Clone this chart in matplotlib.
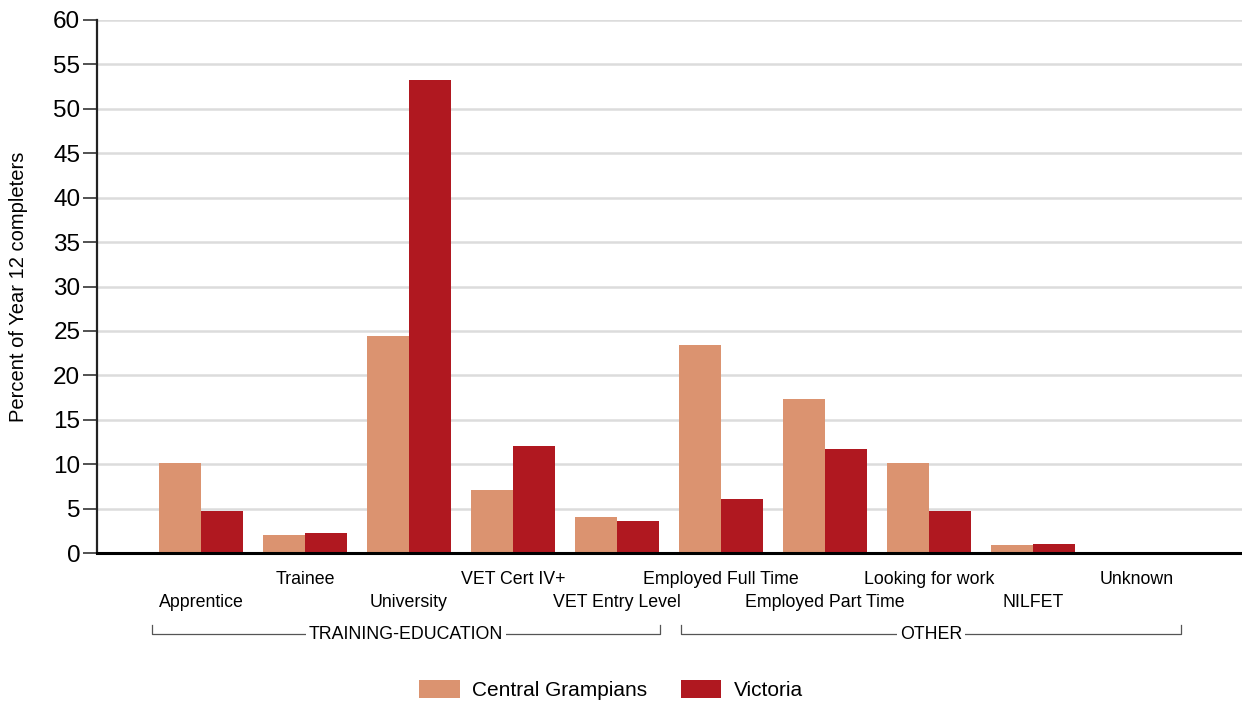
import matplotlib
matplotlib.use("Agg")
from matplotlib import pyplot as plt
import matplotlib.transforms as mtransforms
import numpy as np

categories = ['Apprentice', 'Trainee', 'University', 'VET Cert IV+', 'VET Entry Level',
              'Employed Full Time', 'Employed Part Time', 'Looking for work', 'NILFET', 'Unknown']
central_grampians = [10.1, 2.0, 24.4, 7.1, 4.0, 23.4, 17.3, 10.1, 0.95, 0.0]
victoria = [4.7, 2.25, 53.2, 12.1, 3.6, 6.1, 11.7, 4.7, 1.05, 0.0]
groups = [('TRAINING-EDUCATION', -0.47, 4.41), ('OTHER', 4.615, 9.42)]
yticks = list(range(0, 61, 5))

plt.rcParams['font.family'] = ['Liberation Sans', 'DejaVu Sans']

fig = plt.figure(figsize=(12.42, 7.04), dpi=100)
ax = fig.add_axes([97 / 1242, (704 - 553) / 704, 1 - 97 / 1242, 533 / 704])

x = np.arange(len(categories))
w = 0.4
ax.bar(x - w / 2, central_grampians, w, color='#DB9370', label='Central Grampians', zorder=3)
ax.bar(x + w / 2, victoria, w, color='#B01820', label='Victoria', zorder=3)

ax.set_xlim(-1, 10.01)
ax.set_ylim(0, 60)
ax.set_yticks(yticks)
ax.tick_params(axis='y', labelsize=17.5, length=10, width=1.2, color='#333333', pad=2)
ax.set_xticks([])
ax.yaxis.grid(True, color='#dcdcdc', linewidth=1.8, zorder=0)
ax.set_axisbelow(True)
for s in ['top', 'right']:
    ax.spines[s].set_visible(False)
ax.spines['left'].set_linewidth(1.6)
ax.spines['left'].set_color('#222222')
ax.spines['bottom'].set_linewidth(2.2)
ax.spines['bottom'].set_color('black')
ax.spines['bottom'].set_zorder(4)
ax.set_ylabel('Percent of Year 12 completers', fontsize=14.5)
ax.yaxis.set_label_coords(-0.060, 0.5)

trans = mtransforms.blended_transform_factory(ax.transData, ax.transAxes)
# category labels, staggered in two rows
for i, c in enumerate(categories):
    yy = -0.0938 if i % 2 == 0 else -0.0488
    ax.text(i, yy, c, transform=trans, ha='center', va='center', fontsize=12.8)

# group brackets
for name, x0, x1 in groups:
    yb, yt = -0.152, -0.135
    ax.plot([x0, x0, x1, x1], [yt, yb, yb, yt], transform=trans, color='#555555',
            linewidth=0.9, clip_on=False)
    ax.text((x0 + x1) / 2, yb, name, transform=trans, ha='center', va='center', fontsize=12.8,
            bbox=dict(facecolor='white', edgecolor='none', pad=2))

fig.legend(loc='center', bbox_to_anchor=(611 / 1242, 14 / 704), ncol=2, frameon=False,
           fontsize=15, handlelength=1.95, handleheight=1.0, columnspacing=1.6, handletextpad=0.6)

fig.savefig('out.png', dpi=100)
